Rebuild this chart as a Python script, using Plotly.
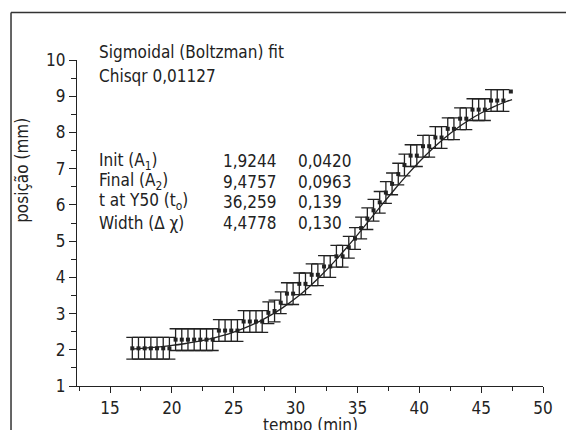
import plotly.graph_objects as go

# measured data (time in min, position in mm)
tempo = [16.8, 17.3, 17.8, 18.3, 18.8, 19.3, 19.8, 20.3, 20.8, 21.3, 21.8, 22.3, 22.8,
         23.3, 23.8, 24.3, 24.8, 25.3, 25.8, 26.3, 26.8, 27.3, 27.8, 28.3, 28.8, 29.3,
         29.8, 30.3, 30.8, 31.3, 31.8, 32.3, 32.8, 33.3, 33.8, 34.3, 34.8, 35.3, 35.8,
         36.3, 36.8, 37.3, 37.8, 38.3, 38.8, 39.3, 39.8, 40.3, 40.8, 41.3, 41.8, 42.3,
         42.8, 43.3, 43.8, 44.3, 44.8, 45.3, 45.8, 46.3, 46.8]
posicao = [2.04, 2.04, 2.04, 2.04, 2.04, 2.04, 2.04, 2.28, 2.28, 2.28, 2.28, 2.28, 2.28,
           2.28, 2.53, 2.53, 2.53, 2.53, 2.78, 2.78, 2.78, 2.78, 3.02, 3.07, 3.30, 3.55,
           3.55, 3.82, 3.82, 4.07, 4.07, 4.30, 4.30, 4.58, 4.58, 4.83, 5.07, 5.36, 5.62,
           5.85, 6.07, 6.34, 6.58, 6.85, 7.10, 7.36, 7.36, 7.62, 7.62, 7.86, 7.86, 8.10,
           8.10, 8.38, 8.38, 8.63, 8.63, 8.63, 8.88, 8.88, 8.88]
erro = [0.3] * len(tempo)
# last reading, drawn without an error bar
tempo_final = [47.4]
posicao_final = [9.13]

# fitted sigmoid curve
fit_t = [16.8, 17, 18, 19, 20, 21, 22, 23, 24, 25, 26, 27, 28, 29, 30, 31, 32, 33, 34,
         35, 36, 37, 38, 39, 40, 41, 42, 43, 44, 45, 46, 47, 47.5]
fit_y = [2.021, 2.025, 2.050, 2.081, 2.119, 2.166, 2.225, 2.296, 2.384, 2.490, 2.618,
         2.772, 2.956, 3.171, 3.421, 3.707, 4.029, 4.384, 4.767, 5.173, 5.591, 6.012,
         6.425, 6.821, 7.192, 7.531, 7.836, 8.104, 8.337, 8.537, 8.706, 8.847, 8.908]

header_lines = ["Sigmoidal (Boltzman) fit", "Chisqr 0,01127"]
param_names = ["Init (A<sub>1</sub>)", "Final (A<sub>2</sub>)", "t at Y50 (t<sub>o</sub>)",
               "Width (\u0394 \u03c7)"]
param_values = ["1,9244", "9,4757", "36,259", "4,4778"]
param_errors = ["0,0420", "0,0963", "0,139", "0,130"]

FONT = "DejaVu Sans Condensed, Liberation Sans Narrow, sans-serif"
INK = "#222222"

fig = go.Figure()
fig.add_trace(go.Scatter(
    x=fit_t, y=fit_y, mode="lines", line=dict(color=INK, width=1.3, shape="spline"),
    hoverinfo="skip", showlegend=False))
fig.add_trace(go.Scatter(
    x=tempo, y=posicao, mode="markers",
    marker=dict(symbol="square", size=4, color=INK),
    error_y=dict(type="data", array=erro, visible=True, color=INK, thickness=1.3, width=6),
    showlegend=False))
fig.add_trace(go.Scatter(
    x=tempo_final, y=posicao_final, mode="markers",
    marker=dict(symbol="square", size=4, color=INK), showlegend=False))

ann = []
header_y = [1.024, 0.951]
for txt, yv in zip(header_lines, header_y):
    ann.append(dict(x=0.043, y=yv, xref="paper", yref="paper", text=txt, showarrow=False,
                    xanchor="left", yanchor="middle", font=dict(size=17, color=INK, family=FONT)))
row_y = [0.689, 0.627, 0.565, 0.501]
col_x = [0.043, 0.309, 0.470]
for i, yv in enumerate(row_y):
    for cx, col in zip(col_x, [param_names, param_values, param_errors]):
        ann.append(dict(x=cx, y=yv, xref="paper", yref="paper", text=col[i], showarrow=False,
                        xanchor="left", yanchor="middle",
                        font=dict(size=17, color=INK, family=FONT)))
ann.append(dict(x=-0.118, y=0.66, xref="paper", yref="paper", text="posição (mm)",
                textangle=-90, showarrow=False, xanchor="center", yanchor="middle",
                font=dict(size=17, color=INK, family=FONT)))
ann.append(dict(x=0.5, y=-0.084, xref="paper", yref="paper", text="tempo (min)",
                showarrow=False, xanchor="center", yanchor="top",
                font=dict(size=17, color=INK, family=FONT)))

shapes = [
    dict(type="line", xref="paper", yref="paper", x0=-0.1416, x1=1.08, y0=1.1459, y1=1.1459,
         line=dict(color="#333333", width=1.5)),
    dict(type="line", xref="paper", yref="paper", x0=-0.1416, x1=-0.1416, y0=1.1459, y1=-0.15,
         line=dict(color="#333333", width=1.5)),
]

# the page body adds an 8px margin, so the figure is 8px smaller on each side
fig.update_layout(
    width=566, height=422,
    margin=dict(l=69, r=31, t=52, b=41),
    paper_bgcolor="white", plot_bgcolor="white",
    font=dict(family=FONT, size=17, color=INK),
    annotations=ann, shapes=shapes,
    xaxis=dict(range=[12.33, 50], tickmode="linear", tick0=15, dtick=5,
               ticks="outside", ticklen=6, tickwidth=1.2, tickcolor=INK,
               showline=True, linecolor=INK, linewidth=1.3, showgrid=False, zeroline=False,
               minor=dict(dtick=2.5, tick0=15, ticks="outside", ticklen=4, tickcolor=INK,
                          showgrid=False),
               tickfont=dict(size=17, color=INK, family=FONT)),
    yaxis=dict(range=[1, 10], tickmode="linear", tick0=1, dtick=1,
               ticks="outside", ticklen=7, tickwidth=1.2, tickcolor=INK,
               showline=True, linecolor=INK, linewidth=1.3, showgrid=False, zeroline=False,
               minor=dict(dtick=0.5, tick0=1, ticks="outside", ticklen=5, tickcolor=INK,
                          showgrid=False),
               tickfont=dict(size=17, color=INK, family=FONT)),
)

fig.write_html("out.html")
